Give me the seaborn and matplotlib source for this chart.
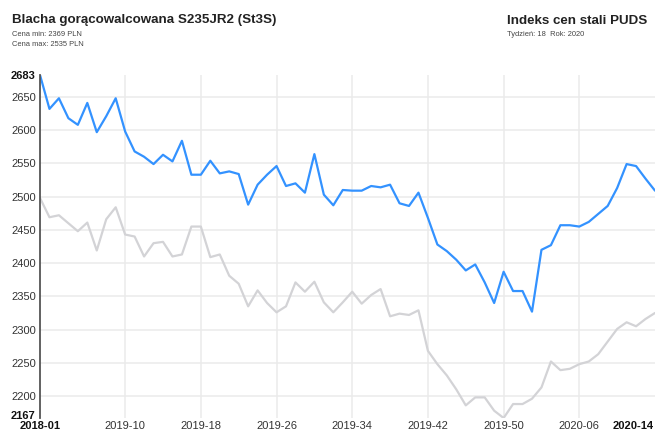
import matplotlib
matplotlib.use("Agg")
import matplotlib.pyplot as plt
import seaborn as sns
import pandas as pd

# weekly index values
blue = [2683, 2632, 2648, 2618, 2608, 2641, 2597, 2621, 2648, 2598,
        2568, 2560, 2549, 2563, 2553, 2584, 2533, 2533, 2554, 2535,
        2538, 2534, 2488, 2518, 2533, 2546, 2516, 2520, 2506, 2564,
        2503, 2487, 2510, 2509, 2509, 2516, 2514, 2518, 2490, 2486,
        2506, 2468, 2428, 2418, 2405, 2389, 2398, 2371, 2340, 2387,
        2358, 2358, 2327, 2420, 2427, 2457, 2457, 2455, 2462, 2474,
        2486, 2513, 2549, 2546, 2527, 2509]
gray = [2498, 2469, 2472, 2460, 2448, 2461, 2419, 2466, 2484, 2443,
        2440, 2410, 2430, 2432, 2410, 2413, 2455, 2455, 2409, 2413,
        2381, 2369, 2335, 2359, 2340, 2326, 2335, 2371, 2357, 2372,
        2341, 2326, 2341, 2357, 2339, 2352, 2361, 2320, 2324, 2322,
        2329, 2268, 2248, 2231, 2210, 2186, 2198, 2198, 2178, 2167,
        2188, 2188, 2196, 2213, 2252, 2239, 2241, 2248, 2252, 2263,
        2282, 2301, 2311, 2305, 2316, 2325]

tick_idx = [0, 9, 17, 25, 33, 41, 49, 57]
tick_lab = ["2018-01", "2019-10", "2019-18", "2019-26", "2019-34",
            "2019-42", "2019-50", "2020-06"]
last_lab = "2020-14"
y_ticks = [2200, 2250, 2300, 2350, 2400, 2450, 2500, 2550, 2600, 2650]
y_min, y_max = 2167, 2683

df = pd.DataFrame({
    "week": list(range(len(blue))) * 2,
    "price": blue + gray,
    "series": ["a"] * len(blue) + ["b"] * len(gray),
})

sns.set_style("white")
plt.rcParams["font.family"] = ["Liberation Sans", "DejaVu Sans"]

fig = plt.figure(figsize=(6.55, 4.34), dpi=100)
ax = fig.add_axes([40 / 655, 16 / 434, 615 / 655, 343 / 434])

sns.lineplot(data=df, x="week", y="price", hue="series",
             palette={"a": "#3392ff", "b": "#d3d3d6"},
             hue_order=["b", "a"], linewidth=1.6, legend=False, ax=ax)

ax.set_xlim(0, len(blue) - 1)
ax.set_ylim(y_min, y_max)

# grid
for y in y_ticks:
    ax.axhline(y, color="#ebebeb", lw=1.1, zorder=0)
for x in tick_idx[1:]:
    ax.axvline(x, color="#ebebeb", lw=1.1, zorder=0)

for s in ["top", "right", "bottom"]:
    ax.spines[s].set_visible(False)
ax.spines["left"].set_color("#555555")
ax.spines["left"].set_linewidth(1.3)

ax.set_yticks(y_ticks + [y_max])
ax.set_yticklabels([str(v) for v in y_ticks + [y_max]])
ax.set_xticks(tick_idx)
ax.set_xticklabels(tick_lab)
ax.tick_params(axis="both", length=0, labelsize=8, labelcolor="#333333")
ax.tick_params(axis="y", pad=3)
ax.tick_params(axis="x", pad=2.5)
ax.get_yticklabels()[-1].set_fontweight("bold")
ax.get_yticklabels()[-1].set_color("#111111")
ax.get_xticklabels()[0].set_fontweight("bold")
ax.get_xticklabels()[0].set_color("#111111")
ax.set_xlabel("")
ax.set_ylabel("")

# bold min label, nudged so it does not collide with the first date
ax.annotate(str(y_min), xy=(0, y_min), xycoords=("axes fraction", "data"),
            xytext=(-3, -0.7), textcoords="offset points", ha="right",
            va="baseline", fontsize=8, fontweight="bold", color="#111111",
            annotation_clip=False)

ax.annotate(last_lab, xy=(len(blue) - 1, 0), xycoords=("data", "axes fraction"),
            xytext=(-1, -2.5), textcoords="offset points", ha="right", va="top",
            fontsize=8, fontweight="bold", color="#111111", annotation_clip=False)

# header texts
def fy(px):
    return 1 - px / 434

fig.text(12 / 655, fy(23.5), "Blacha gorącowalcowana S235JR2 (St3S)",
         fontsize=9.6, fontweight="bold", color="#222222", va="baseline")
fig.text(12 / 655, fy(35.7), "Cena min: 2369 PLN", fontsize=5.4,
         color="#444444", va="baseline")
fig.text(12 / 655, fy(45.7), "Cena max: 2535 PLN", fontsize=5.4,
         color="#444444", va="baseline")
fig.text(507 / 655, fy(23.5), "Indeks cen stali PUDS",
         fontsize=9.6, fontweight="bold", color="#222222", va="baseline")
fig.text(507 / 655, fy(35.7), "Tydzień: 18  Rok: 2020", fontsize=5.4,
         color="#444444", va="baseline")

fig.savefig("out.png", dpi=100)
